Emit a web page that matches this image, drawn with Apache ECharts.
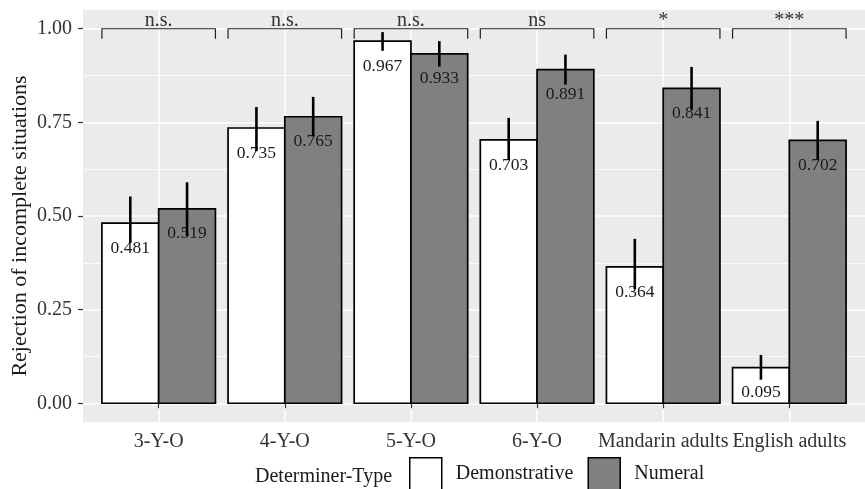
<!DOCTYPE html>
<html>
<head>
<meta charset="utf-8">
<script src="https://cdn.jsdelivr.net/npm/echarts@6/dist/echarts.min.js"></script>
<style>html,body{margin:0;padding:0;background:#fff}#c{width:865px;height:489px}</style>
</head>
<body>
<div id="c"></div>
<script>
const categories = ['3-Y-O', '4-Y-O', '5-Y-O', '6-Y-O', 'Mandarin adults', 'English adults'];
const demonstrative = [0.481, 0.735, 0.967, 0.703, 0.364, 0.095];
const numeral = [0.519, 0.765, 0.933, 0.891, 0.841, 0.702];
const demLow = [0.428, 0.673, 0.941, 0.650, 0.305, 0.063];
const demHigh = [0.552, 0.791, 0.991, 0.762, 0.439, 0.129];
const numLow = [0.446, 0.713, 0.899, 0.851, 0.784, 0.652];
const numHigh = [0.590, 0.818, 0.967, 0.931, 0.898, 0.754];
const significance = ['n.s.', 'n.s.', 'n.s.', 'ns', '*', '***'];
const bracketLevel = 1.0;
const yTicks = [0, 0.25, 0.5, 0.75, 1.0];
const yMinor = [0.125, 0.375, 0.625, 0.875];
const seriesNames = ['Demonstrative', 'Numeral'];

const FONT = '"Liberation Serif", "DejaVu Serif", serif';
const DODGE = 0.45;
const catIdx = categories.map((_, i) => i);

function barSeries(name, values, side, fill) {
  return {
    type: 'custom', name: name,
    itemStyle: { color: fill, borderColor: '#000', borderWidth: 1.5 },
    data: values.map((v, i) => [i, v]),
    z: 2,
    renderItem: function (params, api) {
      const x = api.value(0), v = api.value(1);
      const x0 = side < 0 ? x - DODGE : x;
      const x1 = side < 0 ? x : x + DODGE;
      const pTop = api.coord([x0, v]);
      const pBot = api.coord([x1, 0]);
      const cx = api.coord([(x0 + x1) / 2, v]);
      return {
        type: 'group',
        children: [
          { type: 'rect', shape: { x: pTop[0], y: pTop[1], width: pBot[0] - pTop[0], height: pBot[1] - pTop[1] },
            style: { fill: fill, stroke: '#000', lineWidth: 1.7 } },
          { type: 'text', x: cx[0], y: cx[1] + 25,
            style: { text: v.toFixed(3), fill: '#1a1a1a', font: '17.5px ' + FONT, align: 'center', verticalAlign: 'middle' } }
        ]
      };
    }
  };
}

function errSeries(low, high, side) {
  return {
    type: 'custom', silent: true, z: 4,
    data: catIdx.map(i => [i, low[i], high[i]]),
    renderItem: function (params, api) {
      const x = api.value(0) + side * DODGE / 2;
      const a = api.coord([x, api.value(1)]);
      const b = api.coord([x, api.value(2)]);
      return { type: 'line', shape: { x1: a[0], y1: a[1], x2: b[0], y2: b[1] },
        style: { stroke: '#000', lineWidth: 2.6 } };
    }
  };
}

const bracketSeries = {
  type: 'custom', silent: true, z: 3,
  data: catIdx.map(i => [i, bracketLevel]),
  renderItem: function (params, api) {
    const x = api.value(0), lvl = api.value(1);
    const l = api.coord([x - DODGE, lvl]);
    const r = api.coord([x + DODGE, lvl]);
    const mid = api.coord([x, lvl]);
    const tip = 10;
    return {
      type: 'group',
      children: [
        { type: 'polyline', shape: { points: [[l[0], l[1] + tip], [l[0], l[1]], [r[0], r[1]], [r[0], r[1] + tip]] },
          style: { stroke: '#222', lineWidth: 1.2, fill: null } },
        { type: 'text', x: mid[0], y: mid[1] - 8,
          style: { text: significance[params.dataIndex], fill: '#333', font: '20px ' + FONT, align: 'center', verticalAlign: 'middle' } }
      ]
    };
  }
};

const chart = echarts.init(document.getElementById('c'), null, { renderer: 'canvas' });
chart.setOption({
  animation: false,
  backgroundColor: '#fff',
  grid: { left: 83, top: 10, right: -11, bottom: 67, show: true, backgroundColor: '#EBEBEB', borderWidth: 0 },
  xAxis: {
    type: 'value', min: -0.6, max: 5.6,
    axisLine: { show: false },
    axisTick: { show: true, customValues: catIdx, length: 5, lineStyle: { color: '#333', width: 1.2 } },
    axisLabel: { customValues: catIdx, formatter: v => categories[Math.round(v)], fontFamily: FONT, fontSize: 20, color: '#333', margin: 10 },
    splitLine: { show: true, lineStyle: { color: '#fff', width: 1.5 } }
  },
  yAxis: [{
    type: 'value', min: -0.05, max: 1.05,
    axisLine: { show: false, onZero: false },
    axisTick: { show: true, customValues: yTicks, length: 5, lineStyle: { color: '#333', width: 1.2 } },
    axisLabel: { customValues: yTicks, formatter: v => v.toFixed(2), fontFamily: FONT, fontSize: 20, color: '#333', margin: 11 },
    splitLine: { show: true, lineStyle: { color: '#fff', width: 1.5 } }
  }, {
    type: 'value', min: -0.05, max: 1.05, position: 'left',
    axisLine: { show: false, onZero: false },
    axisTick: { show: false, customValues: yMinor },
    axisLabel: { show: false, customValues: yMinor },
    splitLine: { show: true, lineStyle: { color: '#fff', width: 0.8 } }
  }],
  legend: {
    left: 409, top: 457, padding: 0,
    itemWidth: 32, itemHeight: 32, itemGap: 14,
    icon: 'rect',
    data: [
      { name: seriesNames[0], itemStyle: { color: '#fff', borderColor: '#000', borderWidth: 1.5 } },
      { name: seriesNames[1], itemStyle: { color: '#808080', borderColor: '#000', borderWidth: 1.5 } }
    ],
    textStyle: { fontFamily: FONT, fontSize: 20, color: '#1a1a1a', padding: [6, 0, 0, 9] }
  },
  graphic: [
    { type: 'text', left: 255, top: 467, style: { text: 'Determiner-Type', font: '20px ' + FONT, fill: '#1a1a1a' } },
    { type: 'text', x: 20, y: 226, rotation: Math.PI / 2,
      style: { text: 'Rejection of incomplete situations', font: '22px ' + FONT, fill: '#1a1a1a', align: 'center', verticalAlign: 'middle' } }
  ],
  series: [
    barSeries(seriesNames[0], demonstrative, -1, '#ffffff'),
    barSeries(seriesNames[1], numeral, 1, '#808080'),
    errSeries(demLow, demHigh, -1),
    errSeries(numLow, numHigh, 1),
    bracketSeries
  ]
});
</script>
</body>
</html>
